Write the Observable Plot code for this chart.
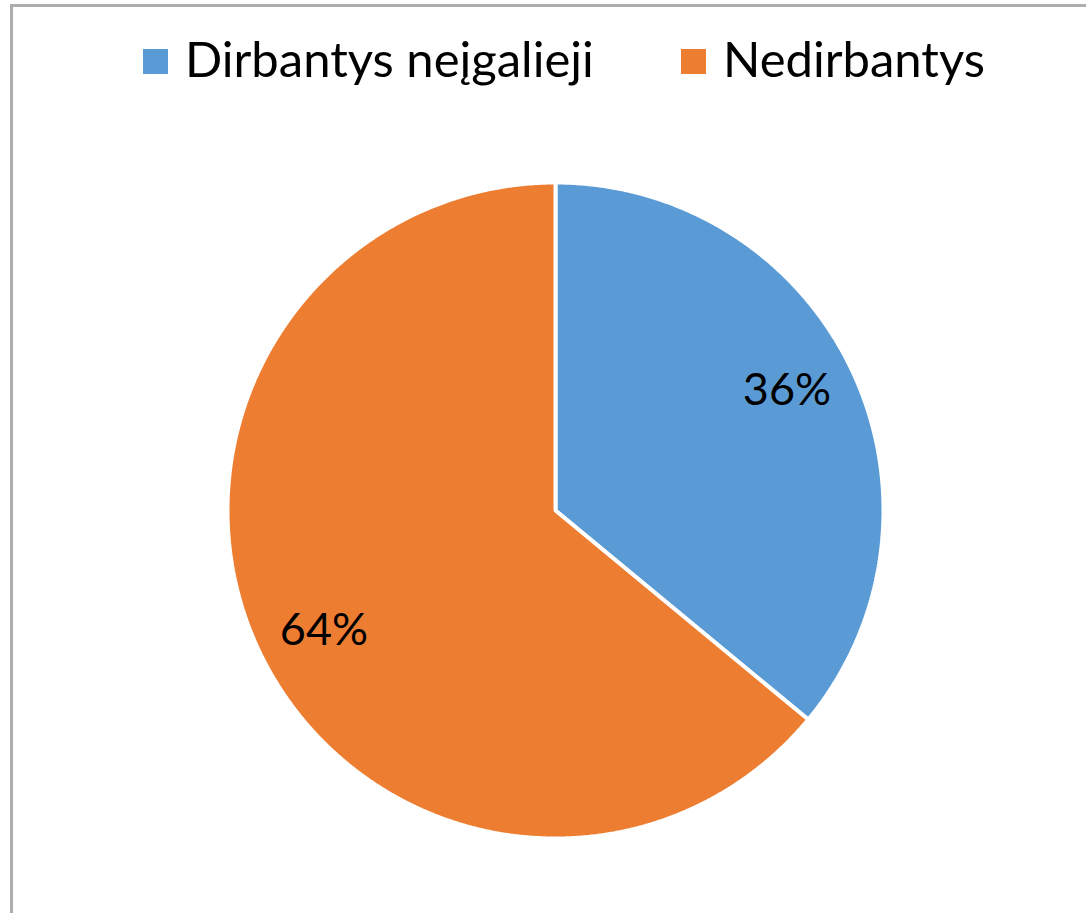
<!DOCTYPE html>
<html><head><meta charset="utf-8">
<script src="https://cdn.jsdelivr.net/npm/d3@7"></script>
<script src="https://cdn.jsdelivr.net/npm/@observablehq/plot@0.6"></script>
<style>
html,body{margin:0;padding:0;background:#fff;}
#page{position:relative;width:1086px;height:913px;overflow:hidden;font-family:Lato,"Open Sans",sans-serif;}
#frame{position:absolute;left:10px;top:4px;width:1100px;height:950px;border-left:3px solid #adadad;border-top:3px solid #adadad;box-sizing:border-box;}
#legend{position:absolute;left:0;top:0;}
#chart{position:absolute;left:0;top:120px;}
</style></head><body><div id="page"><div id="frame"></div><div id="legend"></div><div id="chart"></div></div>
<script>
const categories = ["Dirbantys neįgalieji", "Nedirbantys"];
const shares = [36, 64];
const labels = ["36%", "64%"];
const colors = ["#5B9BD5", "#ED7D31"];

const total = d3.sum(shares);
const slicePoints = [];
const labelRows = [];
let acc = 0;
categories.forEach((cat, i) => {
  const a0 = acc / total * 2 * Math.PI;
  acc += shares[i];
  const a1 = acc / total * 2 * Math.PI;
  slicePoints.push({cat, x: 0, y: 0});
  const n = Math.max(2, Math.ceil((a1 - a0) / (Math.PI / 720)));
  for (let k = 0; k <= n; k++) {
    const t = a0 + (a1 - a0) * k / n;
    slicePoints.push({cat, x: Math.sin(t), y: Math.cos(t)});
  }
  const m = (a0 + a1) / 2;
  labelRows.push({cat, label: labels[i], x: 0.78 * Math.sin(m), y: 0.86 * Math.cos(m)});
});

const cx = 555, cy = 390, r = 328;
const chart = Plot.plot({
  width: 1086,
  height: 793,
  margin: 0,
  x: {domain: [-1, 1], range: [cx - r, cx + r], axis: null},
  y: {domain: [-1, 1], range: [cy + r, cy - r], axis: null},
  color: {domain: categories, range: colors},
  style: {background: "transparent", overflow: "visible"},
  marks: [
    Plot.line(slicePoints, {x: "x", y: "y", z: "cat", fill: "cat", stroke: "white", strokeWidth: 4, strokeLinejoin: "miter", curve: "linear-closed"}),
    Plot.text(labelRows, {x: "x", y: "y", text: "label", fill: "black", fontSize: 45, fontFamily: "Lato, 'Open Sans', sans-serif"})
  ]
});
document.getElementById("chart").appendChild(chart);

// legend
const lg = d3.select("#legend").append("svg").attr("width", 1086).attr("height", 120);
const legendX = [143, 681];
categories.forEach((cat, i) => {
  lg.append("rect").attr("x", legendX[i]).attr("y", 49).attr("width", 25).attr("height", 25).attr("fill", colors[i]);
  lg.append("text").attr("x", legendX[i] + 42).attr("y", 77)
    .attr("font-size", 49).attr("font-family", "Lato, 'Open Sans', sans-serif").attr("fill", "black").text(cat);
});
</script></body></html>
